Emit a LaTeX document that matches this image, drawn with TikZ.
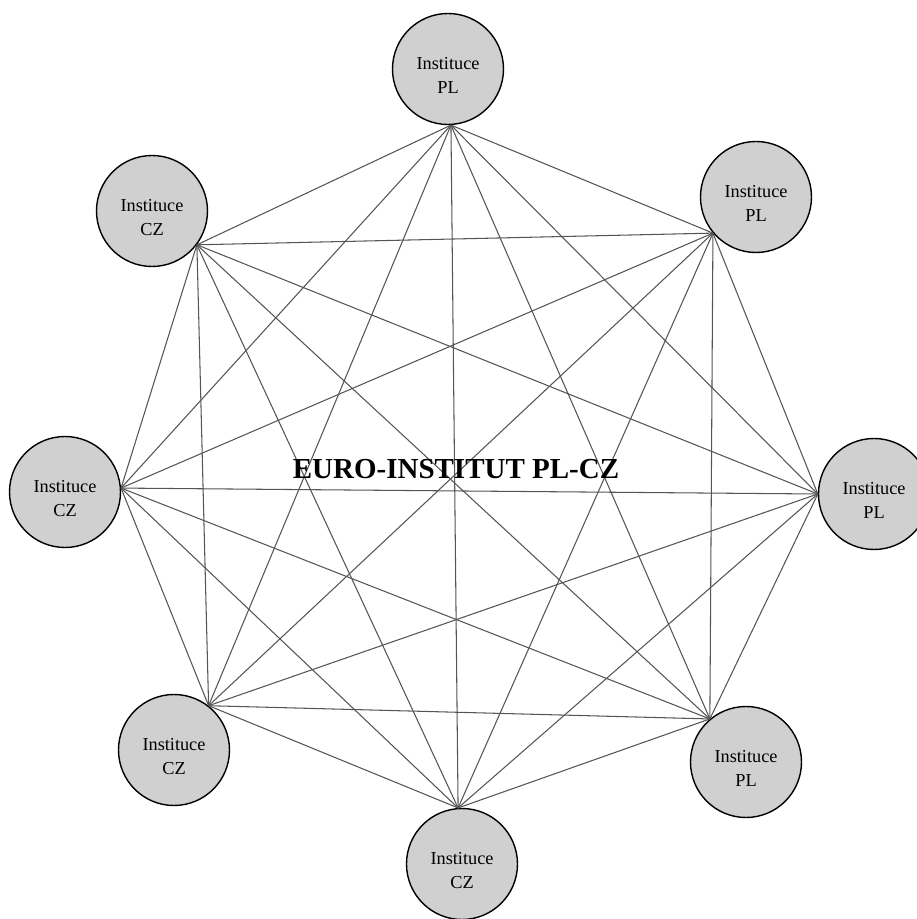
\documentclass[tikz,border=0pt]{standalone}
\usepackage{fontspec}
\setmainfont{Liberation Serif}
\definecolor{instfill}{RGB}{208,208,208}
\definecolor{linkgray}{RGB}{85,85,85}
\tikzset{instituce/.style={circle, draw=black, line width=0.8pt, fill=instfill,
        minimum size=2.22cm, inner sep=0, align=center,
        font=\fontsize{10.4}{13.7}\selectfont, text height=28pt, text depth=0pt}}
\tikzset{link/.style={draw=linkgray, line width=0.6pt}}

\begin{document}
\begin{tikzpicture}
\useasboundingbox (0,0) rectangle (18.34,18.38);
% Instituce PL
\node[instituce] (pl1) at (8.96,17.0) {Instituce\\PL};
\node[instituce] (pl2) at (15.12,14.44) {Instituce\\PL};
\node[instituce] (pl3) at (17.48,8.5) {Instituce\\PL};
\node[instituce] (pl4) at (14.92,3.14) {Instituce\\PL};
% Instituce CZ
\node[instituce] (cz1) at (9.24,1.1) {Instituce\\CZ};
\node[instituce] (cz2) at (3.48,3.38) {Instituce\\CZ};
\node[instituce] (cz3) at (1.3,8.54) {Instituce\\CZ};
\node[instituce] (cz4) at (3.04,14.16) {Instituce\\CZ};
%% Contact points
\coordinate (v1) at (pl1.-87);
\coordinate (v2) at (pl2.220);
\coordinate (v3) at (pl3.180);
\coordinate (v4) at (pl4.130);
\coordinate (v5) at (cz1.94);
\coordinate (v6) at (cz2.52);
\coordinate (v7) at (cz3.4);
\coordinate (v8) at (cz4.-37);
% Links
\foreach \i in {1,...,7}{
    \pgfmathtruncatemacro\nexti{\i+1}
    \foreach \j in {\nexti,...,8}
        \draw[link] (v\i) -- (v\j);
}
% Title
\node[font=\fontsize{16.5}{20}\selectfont\bfseries] (title) at (9.12,9.0) {EURO-INSTITUT PL-CZ};
\end{tikzpicture}
\end{document}
